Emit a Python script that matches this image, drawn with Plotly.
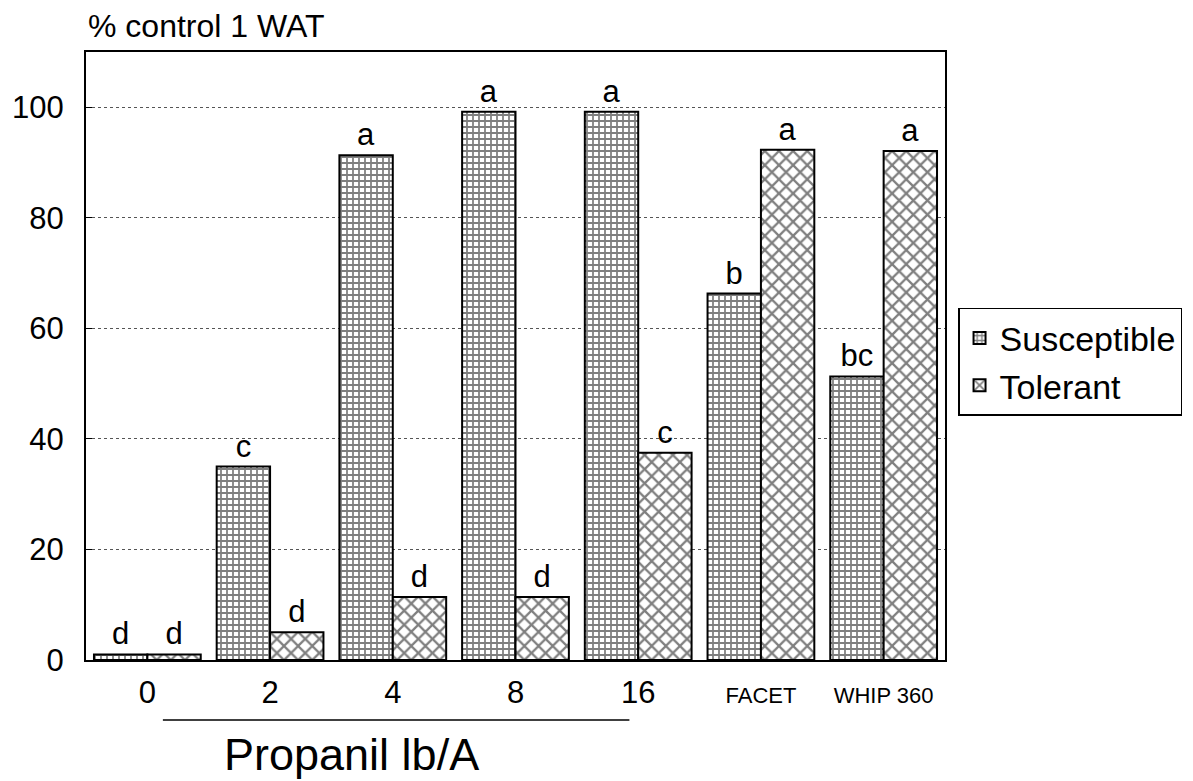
import plotly.graph_objects as go

categories = ["0", "2", "4", "8", "16", "FACET", "WHIP 360"]
tick_labels = ["0", "2", "4", "8", "16",
               "<span style='font-size:22px'>FACET</span>",
               "<span style='font-size:22px'>WHIP 360</span>"]
susceptible = [1, 35, 91.3, 99.2, 99.2, 66.3, 51.3]
tolerant = [1, 5, 11.4, 11.4, 37.5, 92.3, 92.1]
susceptible_letters = ["d", "c", "a", "a", "a", "b", "bc"]
tolerant_letters = ["d", "d", "d", "d", "c", "a", "a"]
y_ticks = [0, 20, 40, 60, 80, 100]

FONT = "Liberation Sans, Arial, sans-serif"

fig = go.Figure()
fig.add_trace(go.Bar(
    x=categories, y=susceptible, name="Susceptible",
    text=susceptible_letters, textposition="outside", cliponaxis=False,
    textfont=dict(size=31, color="black", family=FONT),
    marker=dict(color="white", line=dict(color="black", width=2),
                pattern=dict(shape="+", size=6, solidity=0.5,
                             fgcolor="black", bgcolor="white", fillmode="overlay")),
))
fig.add_trace(go.Bar(
    x=categories, y=tolerant, name="Tolerant",
    text=tolerant_letters, textposition="outside", cliponaxis=False,
    textfont=dict(size=31, color="black", family=FONT),
    marker=dict(color="white", line=dict(color="black", width=2),
                pattern=dict(shape="x", size=10, solidity=0.4,
                             fgcolor="black", bgcolor="white", fillmode="overlay")),
))

fig.update_layout(
    width=1193, height=781,
    margin=dict(l=86, r=247, t=52, b=121),
    paper_bgcolor="white", plot_bgcolor="white",
    font=dict(family=FONT, color="black", size=31),
    barmode="group", bargap=0.13, bargroupgap=0,
    showlegend=True,
    legend=dict(x=1.014, y=0.579, xanchor="left", yanchor="top",
                bordercolor="black", borderwidth=1.5, bgcolor="white",
                font=dict(size=34, family=FONT), itemwidth=30,
                tracegroupgap=0),
    xaxis=dict(tickmode="array", tickvals=categories, ticktext=tick_labels,
               showline=True, linecolor="black", linewidth=2, mirror=True,
               showgrid=False, ticks="outside", ticklen=4, tickcolor="white",
               tickfont=dict(size=31)),
    yaxis=dict(range=[0, 110], tickvals=y_ticks,
               showline=True, linecolor="black", linewidth=2, mirror=True,
               showgrid=True, gridcolor="#555555", griddash="dot", gridwidth=1,
               ticks="inside", ticklen=6, tickcolor="black",
               ticklabelstandoff=14, tickfont=dict(size=31), zeroline=False),
)

fig.add_annotation(text="% control 1 WAT", xref="paper", yref="paper",
                   x=0, y=1, xanchor="left", yanchor="middle", yshift=26,
                   showarrow=False, font=dict(size=32, family=FONT))
fig.add_annotation(text="Propanil lb/A", xref="paper", yref="paper",
                   x=0.309, y=0, xanchor="center", yanchor="middle", yshift=-94,
                   showarrow=False, font=dict(size=45, family=FONT))
fig.add_shape(type="line", xref="paper", yref="paper",
              x0=0.0895, x1=0.6326, y0=-0.0987, y1=-0.0987,
              line=dict(color="black", width=1.5))

fig.write_html("out.html")
